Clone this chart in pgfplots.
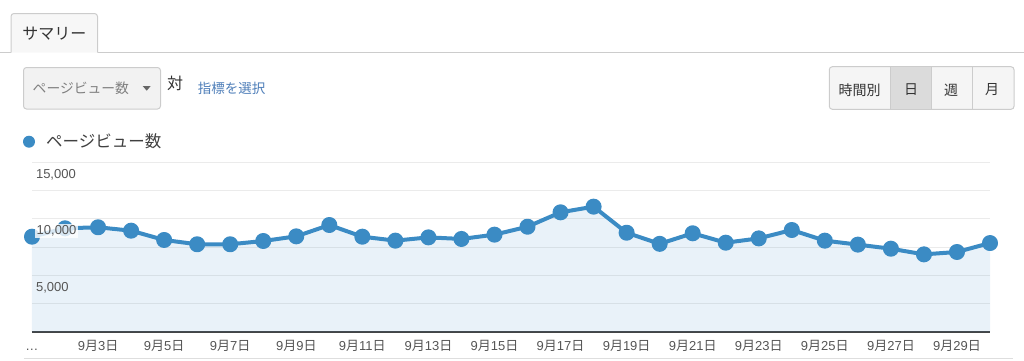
\documentclass[border=0pt]{standalone}
\usepackage{pgfplots}
\pgfplotsset{compat=1.18}
\usepackage{fontspec}
\setmainfont{Liberation Sans}
\newfontfamily\cjk{Noto Sans CJK JP}
\definecolor{gablue}{HTML}{3B8BC4}
\definecolor{gridgray}{HTML}{EBEBEB}
\definecolor{axisdark}{HTML}{444444}
\definecolor{labelgray}{HTML}{555555}
\definecolor{bordergray}{HTML}{CCCCCC}
\definecolor{linkblue}{HTML}{4D7DB8}
\newcommand\dday[1]{9{\cjk 月}#1{\cjk 日}}
\newcommand\elli{…}
\pgfplotsset{
  gabox/.style={
    at={(32pt,28pt)}, anchor=south west,
    width=958pt, height=170pt, scale only axis,
    xmin=1, xmax=30, ymin=0, ymax=15000,
    clip=false,
    axis line style={draw=none},
    tick style={draw=none},
    scaled y ticks=false,
  }
}
\begin{document}
\begin{tikzpicture}[x=1pt,y=1pt]
\useasboundingbox (0,0) rectangle (1024,360);
% tab strip
\draw[bordergray, line width=1pt] (0,307.3) -- (11,307.3);
\draw[bordergray, line width=1pt] (97.5,307.3) -- (1024,307.3);
\draw[bordergray, line width=1pt, fill=black!3, rounded corners=3pt] (11,307.3) -- (11,346.5) -- (97.5,346.5) -- (97.5,307.3);
\node[text=black!80, font=\cjk\fontsize{16}{18}\selectfont] at (54.3,326) {サマリー};
% dropdown
\draw[bordergray, line width=1pt, fill=black!5, rounded corners=3pt] (23.5,251) rectangle (160.5,292.5);
\node[anchor=west, inner sep=0pt, text=black!50, font=\cjk\fontsize{13.8}{16}\selectfont] at (32.5,271.5) {ページビュー数};
\fill[black!60] (142.7,274) -- (150.7,274) -- (146.7,269.3) -- cycle;
\node[text=black!80, font=\cjk\fontsize{16}{18}\selectfont] at (175,277) {対};
\node[text=linkblue, font=\cjk\fontsize{13.5}{16}\selectfont] at (231.7,271.2) {指標を選択};
% buttons
\draw[bordergray, line width=1pt, fill=black!4, rounded corners=3pt] (829.3,250.7) rectangle (1014,293.3);
\fill[black!14] (890,251.2) rectangle (931,292.8);
\draw[bordergray, line width=1pt] (890,250.7) -- (890,293.3);
\draw[bordergray, line width=1pt] (931,250.7) -- (931,293.3);
\draw[bordergray, line width=1pt] (972.7,250.7) -- (972.7,293.3);
\node[text=black!80, font=\cjk\fontsize{14}{16}\selectfont] at (859.5,270) {時間別};
\node[text=black!80, font=\cjk\fontsize{14}{16}\selectfont] at (911,270) {日};
\node[text=black!80, font=\cjk\fontsize{14}{16}\selectfont] at (951,270) {週};
\node[text=black!80, font=\cjk\fontsize{14}{16}\selectfont] at (992,270) {月};
% legend
\fill[gablue] (29,218.3) circle (6);
\node[anchor=west, inner sep=0pt, text=black!75, font=\cjk\fontsize{16.5}{18}\selectfont] at (46,218.3) {ページビュー数};
% bottom line
\draw[black!13, line width=1.5pt] (24,1.3) -- (1013,1.3);
% main axis: grid, area, line, x labels
\begin{axis}[
  gabox,
  xtick={1,3,5,7,9,11,13,15,17,19,21,23,25,27,29},
  xticklabels={{\elli},\dday{3},\dday{5},\dday{7},\dday{9},\dday{11},\dday{13},\dday{15},\dday{17},\dday{19},\dday{21},\dday{23},\dday{25},\dday{27},\dday{29}},
  xticklabel style={anchor=base, yshift=-18pt, text=labelgray, font=\fontsize{13}{15}\selectfont},
  ytick={2500,5000,7500,10000,12500,15000},
  yticklabels={},
  ymajorgrids,
  major grid style={draw=gridgray, line width=1pt},
  extra y ticks={0},
  extra y tick labels={},
  extra y tick style={major grid style={draw=axisdark, line width=1.5pt}},
]
\addplot[draw=none, fill=gablue, fill opacity=0.11] coordinates {
(1,8410) (2,9150) (3,9240) (4,8940) (5,8120) (6,7740) (7,7740) (8,8030) (9,8440) (10,9440)
(11,8410) (12,8060) (13,8350) (14,8210) (15,8590) (16,9290) (17,10560) (18,11060) (19,8760) (20,7780)
(21,8710) (22,7880) (23,8260) (24,9000) (25,8060) (26,7710) (27,7350) (28,6850) (29,7060) (30,7850)
} \closedcycle;
\addplot[draw=gablue, line width=4pt, line join=round, mark=*, mark size=6pt, mark options={draw=none, fill=gablue}] coordinates {
(1,8410) (2,9150) (3,9240) (4,8940) (5,8120) (6,7740) (7,7740) (8,8030) (9,8440) (10,9440)
(11,8410) (12,8060) (13,8350) (14,8210) (15,8590) (16,9290) (17,10560) (18,11060) (19,8760) (20,7780)
(21,8710) (22,7880) (23,8260) (24,9000) (25,8060) (26,7710) (27,7350) (28,6850) (29,7060) (30,7850)
};
\end{axis}
% overlay axis: y tick labels on top of the line
\begin{axis}[
  gabox,
  xtick=\empty,
  ytick={5000,15000},
  yticklabels={{5{,}000},{15{,}000}},
  yticklabel style={anchor=north west, xshift=0.5pt, yshift=-3.5pt, text=labelgray, font=\fontsize{13}{15}\selectfont},
  extra y ticks={10000},
  extra y tick labels={{10{,}000}},
  extra y tick style={yticklabel style={fill=white, fill opacity=0.8, text opacity=1, inner sep=1.5pt, xshift=2.5pt, yshift=-2pt}},
]
\end{axis}
\end{tikzpicture}
\end{document}
